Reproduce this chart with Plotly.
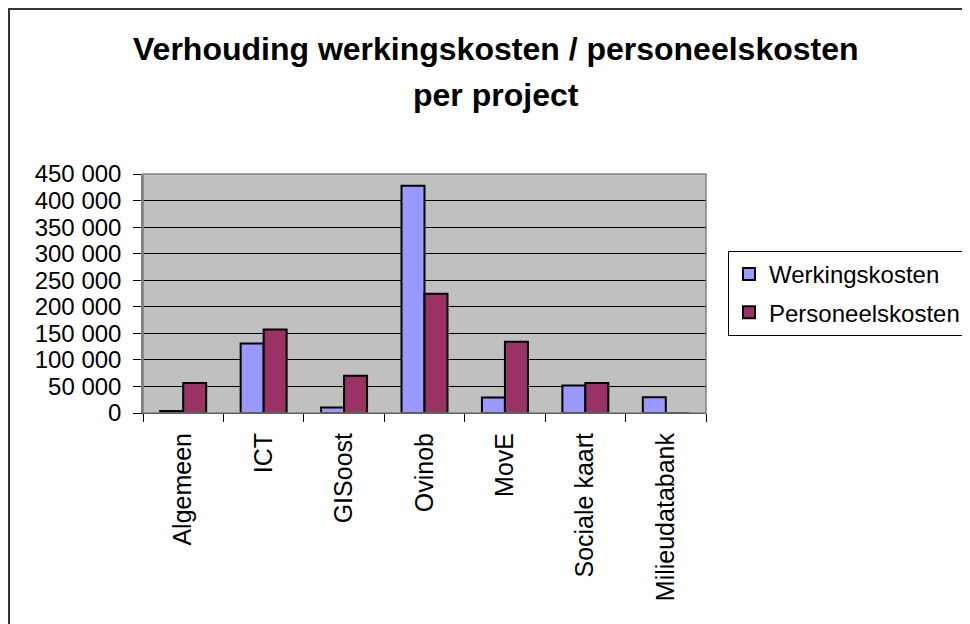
import plotly.graph_objects as go

projects = ["Algemeen", "ICT", "GISoost", "Ovinob", "MovE", "Sociale kaart", "Milieudatabank"]
werkingskosten = [4000, 131000, 10500, 428000, 29000, 52000, 29500]
personeelskosten = [56500, 157000, 70000, 224500, 134000, 56500, 0]
y_ticks = [0, 50000, 100000, 150000, 200000, 250000, 300000, 350000, 400000, 450000]

_FONT = "Liberation Sans, Arial, sans-serif"
_BLUE = "#9999FF"
_PURPLE = "#993366"
_PLOT_BG = "#C0C0C0"

# the page body adds an 8px margin, so all pixel positions are shifted back
OFF = 8
W, H = 970, 624
L, R, T, B = 143 - OFF, 706 - OFF, 174 - OFF, 413 - OFF


def px_x(p):
    return (p - OFF - L) / (R - L)


def px_y(p):
    return (B - (p - OFF)) / (B - T)


fig = go.Figure()
fig.add_trace(
    go.Bar(
        x=projects,
        y=werkingskosten,
        name="Werkingskosten",
        legendgroup="w",
        marker=dict(color=_BLUE, line=dict(color="black", width=2)),
    )
)
fig.add_trace(
    go.Bar(
        x=projects,
        y=personeelskosten,
        name="Personeelskosten",
        legendgroup="p",
        marker=dict(color=_PURPLE, line=dict(color="black", width=2)),
    )
)

title_font = dict(family=_FONT, size=32, color="black")
fig.add_annotation(
    text="<b>Verhouding werkingskosten / personeelskosten</b>",
    xref="paper", yref="paper", x=px_x(496), y=px_y(49),
    xanchor="center", yanchor="middle", showarrow=False, font=title_font,
)
fig.add_annotation(
    text="<b>per project</b>",
    xref="paper", yref="paper", x=px_x(496), y=px_y(95),
    xanchor="center", yanchor="middle", showarrow=False, font=title_font,
)

fig.update_layout(
    width=W,
    height=H,
    paper_bgcolor="white",
    plot_bgcolor=_PLOT_BG,
    font=dict(family=_FONT, color="black", size=24),
    separators=", ",
    barmode="group",
    bargap=1.5 / 3.5,
    bargroupgap=0,
    margin=dict(l=L, r=W - R, t=T, b=H - B, autoexpand=False),
    xaxis=dict(
        type="category",
        tickangle=-90,
        tickson="boundaries",
        ticks="outside",
        ticklen=8,
        tickcolor="black",
        tickfont=dict(size=25),
        ticklabelstandoff=9,
        showgrid=False,
        showline=True,
        linecolor="black",
        linewidth=1,
    ),
    yaxis=dict(
        range=[0, 450000],
        tickvals=y_ticks,
        tickformat=",d",
        ticks="outside",
        ticklen=8,
        tickcolor="black",
        ticklabelstandoff=7,
        showgrid=True,
        gridcolor="black",
        gridwidth=1,
        zeroline=False,
        showline=True,
        linecolor="#808080",
        linewidth=1.5,
    ),
    legend=dict(
        x=px_x(728),
        y=px_y(251),
        xanchor="left",
        yanchor="top",
        bgcolor="white",
        bordercolor="black",
        borderwidth=1,
        font=dict(size=24),
        traceorder="grouped",
        tracegroupgap=4,
    ),
    shapes=[
        # plot area frame
        dict(type="rect", xref="paper", yref="paper", x0=0, x1=1, y0=0, y1=1,
             line=dict(color="#808080", width=1.5), layer="above"),
        # outer chart border
        dict(type="rect", xref="paper", yref="paper",
             x0=px_x(9), x1=px_x(1000), y0=px_y(9), y1=px_y(660),
             line=dict(color="#333333", width=2)),
    ],
)

fig.write_html("out.html")
